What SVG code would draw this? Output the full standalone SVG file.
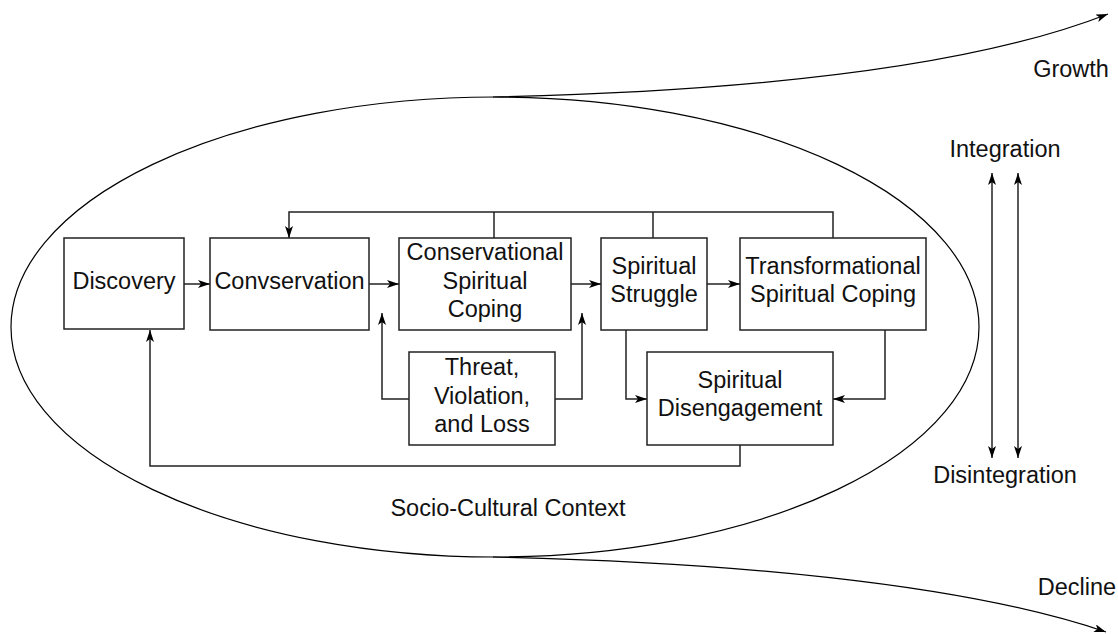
<svg xmlns="http://www.w3.org/2000/svg" width="1118" height="634" viewBox="0 0 1118 634">
<style>
.box{fill:#fff;stroke:#222;stroke-width:1.5}
.ln{fill:none;stroke:#222;stroke-width:1.5}
.cv{fill:none;stroke:#000;stroke-width:1.2}
text{font-family:"Liberation Sans",Arial,sans-serif;font-size:23.5px;fill:#111;text-anchor:middle}
</style>
<defs>
<marker id="ah" markerUnits="userSpaceOnUse" markerWidth="14" markerHeight="10" refX="12" refY="4" orient="auto">
<path d="M0,0 L12,4 L0,8 L3,4 z" fill="#000"/>
</marker>
<marker id="as" markerUnits="userSpaceOnUse" markerWidth="14" markerHeight="10" refX="0" refY="4" orient="auto">
<path d="M12,0 L0,4 L12,8 L9,4 z" fill="#000"/>
</marker>
</defs>
<g id="context">
<ellipse cx="495" cy="327" rx="484" ry="230" class="cv"/>
<path d="M493 97 C720 92,960 72,1108 14" class="cv" marker-end="url(#ah)"/>
<path d="M493 557 C720 562,960 582,1106 632" class="cv" marker-end="url(#ah)"/>
<text x="508" y="516">Socio-Cultural Context</text>
<text x="1071" y="77">Growth</text>
<text x="1077" y="595">Decline</text>
</g>
<g id="axis">
<line x1="992" y1="173" x2="992" y2="458" class="ln" marker-start="url(#as)" marker-end="url(#ah)"/>
<line x1="1018" y1="173" x2="1018" y2="458" class="ln" marker-start="url(#as)" marker-end="url(#ah)"/>
<text x="1005" y="157">Integration</text>
<text x="1005" y="483">Disintegration</text>
</g>
<g id="connectors">
<line x1="184" y1="284" x2="210" y2="284" class="ln" marker-end="url(#ah)"/>
<line x1="369" y1="284" x2="399" y2="284" class="ln" marker-end="url(#ah)"/>
<line x1="571" y1="284" x2="601" y2="284" class="ln" marker-end="url(#ah)"/>
<line x1="707" y1="284" x2="740" y2="284" class="ln" marker-end="url(#ah)"/>
<path d="M833 238 V212 H289 V238" class="ln" marker-end="url(#ah)"/>
<line x1="494" y1="238" x2="494" y2="212" class="ln"/>
<line x1="653" y1="238" x2="653" y2="212" class="ln"/>
<path d="M409 399 H382 V313" class="ln" marker-end="url(#ah)"/>
<path d="M555 399 H582 V313" class="ln" marker-end="url(#ah)"/>
<path d="M626 330 V399 H647" class="ln" marker-end="url(#ah)"/>
<path d="M885 330 V399 H833" class="ln" marker-end="url(#ah)"/>
<path d="M740 445 V466 H150 V330" class="ln" marker-end="url(#ah)"/>
</g>
<g id="discovery">
<rect x="64" y="238" width="120" height="91" class="box"/>
<text x="124" y="289">Discovery</text>
</g>
<g id="convservation">
<rect x="210" y="238" width="159" height="92" class="box"/>
<text x="289.5" y="289">Convservation</text>
</g>
<g id="conservational">
<rect x="399" y="238" width="172" height="92" class="box"/>
<text x="485" y="260">Conservational</text>
<text x="485" y="288.5">Spiritual</text>
<text x="485" y="317">Coping</text>
</g>
<g id="struggle">
<rect x="601" y="238" width="106" height="92" class="box"/>
<text x="654" y="274">Spiritual</text>
<text x="654" y="302">Struggle</text>
</g>
<g id="transformational">
<rect x="740" y="238" width="186" height="92" class="box"/>
<text x="833" y="274">Transformational</text>
<text x="833" y="302">Spiritual Coping</text>
</g>
<g id="threat">
<rect x="409" y="352" width="146" height="93" class="box"/>
<text x="482" y="375">Threat,</text>
<text x="482" y="404">Violation,</text>
<text x="482" y="432">and Loss</text>
</g>
<g id="disengagement">
<rect x="647" y="352" width="186" height="93" class="box"/>
<text x="740" y="388">Spiritual</text>
<text x="740" y="416">Disengagement</text>
</g>
</svg>
